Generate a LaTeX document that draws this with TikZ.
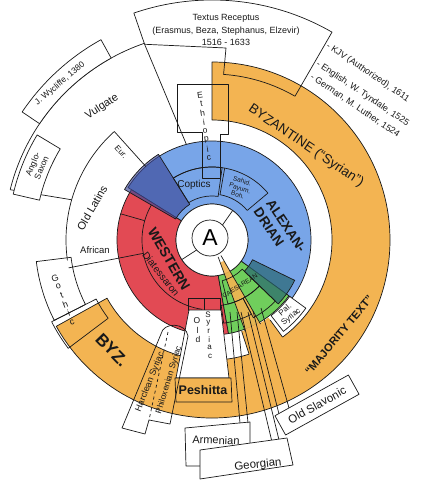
\documentclass[tikz,border=0pt]{standalone}
\usepackage{fontspec}
\setmainfont{Liberation Sans}
\usetikzlibrary{calc}
\definecolor{byz}{RGB}{243,180,82}
\definecolor{alex}{RGB}{120,165,232}
\definecolor{west}{RGB}{226,74,84}
\definecolor{navyb}{RGB}{60,72,152}
\definecolor{caes}{RGB}{112,206,92}
\definecolor{tealb}{RGB}{40,102,112}
\definecolor{ink}{RGB}{25,25,25}
\newcommand\fsz[2]{\fontsize{#1}{#2}\selectfont}
\newcommand\sector[5]{\path[#1] ($(C)+(#4:#3pt)$) arc[start angle=#4,end angle=#5,radius=#3pt] -- ($(C)+(#5:#2pt)$) arc[start angle=#5,end angle=#4,radius=#2pt] -- cycle;}
\newcommand\carc[4]{\path[#1] ($(C)+(#3:#2pt)$) arc[start angle=#3,end angle=#4,radius=#2pt];}
\newcommand\radl[5]{\path[#1] ($(C)+(#2:#3pt)$) -- ($(C)+(#4:#5pt)$);}
\begin{document}
\begin{tikzpicture}[x=1pt,y=-1pt,line width=0.7pt,line join=round,
  lbl/.style={inner sep=0pt,text=ink},
  ln/.style={draw=ink}]
\fill[white] (0,0) rectangle (431,495);
\useasboundingbox (0,0) rectangle (431,495);
\coordinate (C) at (212,240);

% colour fills
\sector{ln,fill=byz}{120}{178}{90}{-151}
\sector{fill=byz}{96}{121}{-72}{-54}
\radl{ln}{-72}{96}{-72}{120}
\radl{ln}{-54}{99}{-54}{120}
\sector{ln,fill=alex}{36}{99}{-36}{148}
\sector{ln,fill=west}{36}{95}{148}{280}
\sector{ln,fill=caes}{36}{95}{-80}{-36}
\sector{ln,fill=tealb,fill opacity=.7}{45}{92}{-44}{-26}
\sector{ln,fill=navyb,fill opacity=.65}{42}{101}{122}{150}
\fill[white] (C) circle[radius=36pt];
\draw[ink] (C) circle[radius=36pt];
\sector{fill=byz,fill opacity=.9}{24}{97}{-70}{-60}
\radl{ln}{-70}{18}{-70}{97}
\radl{ln}{-60}{18}{-60}{97}

% inner subdivisions
\carc{ln}{73}{80}{122}
\sector{ln}{46}{73}{40}{80}
\sector{ln}{44}{73}{82}{122}
\carc{ln}{70}{150}{262}
\sector{ln}{42}{66}{-76}{-44}
\sector{ln}{66}{84}{-82}{-62}
\sector{ln}{66}{88}{-62}{-44}
\radl{ln}{55}{18}{55}{36}
\radl{ln}{213}{18}{213}{36}

% Latin region
\radl{ln}{105}{99}{109}{207}
\carc{ln}{208}{109}{166}
\radl{ln}{166}{208}{164}{146}
\radl{ln}{164}{70}{164}{95}
\carc{ln}{146}{132}{188}
\radl{ln}{132}{99}{132}{146}
\radl{ln}{191}{70}{191}{146}
\sector{ln,fill=white}{208}{229}{119}{146}
\sector{ln,fill=white}{177}{204}{149}{167}
\sector{ln}{142}{177}{187}{207}
\sector{ln}{130}{180}{207}{217}

% Textus Receptus and Ethiopic boxes
\path[ln] ($(C)+(60:240pt)$) arc[start angle=60,end angle=109,radius=240pt] -- ($(C)+(109:207pt)$) -- (226,48) -- ($(C)+(86:166pt)$) arc[start angle=86,end angle=60,radius=166pt] -- cycle;
\draw[ink] (177,84) -- (228,84) -- (228,134) -- (220,134) -- (220,178) -- (202,178) -- (202,132) -- (177,132) -- cycle;

% Pal. Syriac box
\sector{ln,fill=white}{96}{116}{-52}{-36}

% Syriac strips
\draw[ink] (188,298) rectangle (204,310);
\draw[ink] (204,298) rectangle (220,310);
\draw[ink,fill=white] (189,310) -- (221,310) -- (229,378) -- (176,378) -- cycle;
\draw[ink,fill=byz] (175,378) -- (231,378) -- (232,402) -- (176,402) -- cycle;
\draw[ink] (161,334) -- (122,428) -- (145,434) -- (149,420) -- (170,424) -- (188,336) .. controls (186,322) and (163,322) .. (161,334) -- cycle;
\draw[ink,dashed] (168,332) -- (149,420);

% versions strips
\draw[ink] (230,312) -- (240,423);
\draw[ink] (237,312) -- (248,423);
\draw[ink] (241,312) -- (272,442);
\draw[ink] (248,312) -- (279,440);
\draw[ink] (253,311) -- (279,414);
\draw[ink] (261,308) -- (289,408);
\draw[ink] (200,466) -- (186,466) -- (185,428) -- (250,422) -- (250,443);
\draw[ink,fill=white] (200,450) -- (287,438) -- (293,465) -- (200,479) -- cycle;
\node[draw=ink,fill=white,rotate=29,minimum width=84pt,minimum height=22pt,inner sep=0pt,text=ink,font=\fsz{11.5}{12}] (slav) at (317,405) {Old Slavonic};

% centre
\node[circle,draw=ink,fill=white,minimum size=36pt,inner sep=0pt,font=\fsz{23}{23}] (A) at (210,238) {A};

% labels
\node[lbl,font=\fsz{9}{12.5},align=center] (textus) at (226,30) {Textus Receptus\\(Erasmus, Beza, Stephanus, Elzevir)\\1516 - 1633};
\node[lbl,font=\fsz{9}{10},rotate=-34,anchor=west] (kjv) at (327,45) {- KJV (Authorized), 1611};
\node[lbl,font=\fsz{9}{10},rotate=-34,anchor=west] (tyn) at (317,63) {- English, W. Tyndale, 1525};
\node[lbl,font=\fsz{9}{10},rotate=-34,anchor=west] (lut) at (311,76) {- German, M. Luther, 1524};
\node[lbl,font=\fsz{8.5}{10},rotate=40] (wyc) at (60,84) {J. Wycliffe, 1380};
\node[lbl,font=\fsz{11}{12},rotate=33] (vul) at (102,107) {Vulgate};
\node[lbl,font=\fsz{8.5}{9.5},rotate=67,align=center] (ags) at (37,166) {Anglo-\\Saxon};
\node[lbl,font=\fsz{8}{9},rotate=-48] (eur) at (121,152) {Eur.};
\node[lbl,font=\fsz{11}{12},rotate=60] (olat) at (92,208) {Old Latins};
\node[lbl,font=\fsz{9.5}{10}] (afr) at (95,250) {African};
\foreach \l [count=\i from 0] in {G,o,t,h,i,c}
  \node[lbl,font=\fsz{9}{9},rotate=21] (goth\i) at ({55+3.4*\i},{278+8.8*\i}) {\l};
\foreach \l [count=\i from 0] in {E,t,h,i,o,p,i,c}
  \node[lbl,font=\fsz{8.5}{9},rotate=8] (eth\i) at ({200+1.29*\i},{95+9*\i}) {\l};
\node[lbl,font=\fsz{10}{11}] (copt) at (194,185) {Coptics};
\node[lbl,font=\fsz{6.5}{7.2},rotate=-18,align=center] (sah) at (240,188) {Sahid.\\Payum.\\Boh.};
\node[lbl,font=\fsz{13.5}{14},rotate=-34] (byzt) at (306,146) {BYZANTINE (“Syrian”)};
\node[lbl,font=\fsz{13.5}{15}\bfseries,rotate=-56,align=left] (alx) at (280,230) {ALEXAN-\\DRIAN};
\node[lbl,font=\fsz{14}{15}\bfseries,rotate=-60] (wes) at (169,259) {WESTERN};
\node[lbl,font=\fsz{10}{11},rotate=-52] (dia) at (161,274) {Diatessaron};
\node[lbl,font=\fsz{6.5}{7},rotate=32] (cae) at (240,286) {CAESAREAN};
\node[lbl,font=\fsz{8}{9},rotate=40,align=center] (pal) at ($(C)+(-44:106pt)$) {Pal.\\Syriac};
\node[lbl,font=\fsz{11}{12}\bfseries,rotate=50] (maj) at (339,335) {“MAJORITY TEXT”};
\node[lbl,font=\fsz{17}{18}\bfseries,rotate=-46] (byzl) at (112,350) {BYZ.};
\node[lbl,font=\fsz{9}{10},rotate=68] (har) at (150,382) {Harclean Syriac};
\node[lbl,font=\fsz{8.5}{9},rotate=73] (phi) at (169,380) {Philoxenian Syriac};
\node[lbl,font=\fsz{12.5}{13}\bfseries] (pes) at (203,390) {Peshitta};
\foreach \l [count=\i from 0] in {O,l,d}
  \node[lbl,font=\fsz{8.5}{9}] (old\i) at ({197+0.5*\i},{321+9*\i}) {\l};
\foreach \l [count=\i from 0] in {S,y,r,i,a,c}
  \node[lbl,font=\fsz{8}{8}] (syr\i) at ({208+0.4*\i},{315+8.2*\i}) {\l};
\node[lbl,font=\fsz{11}{12},rotate=-2] (arm) at (216,440) {Armenian};
\node[lbl,font=\fsz{11.5}{12},rotate=6] (geo) at (258,465) {Georgian};
\end{tikzpicture}
\end{document}
